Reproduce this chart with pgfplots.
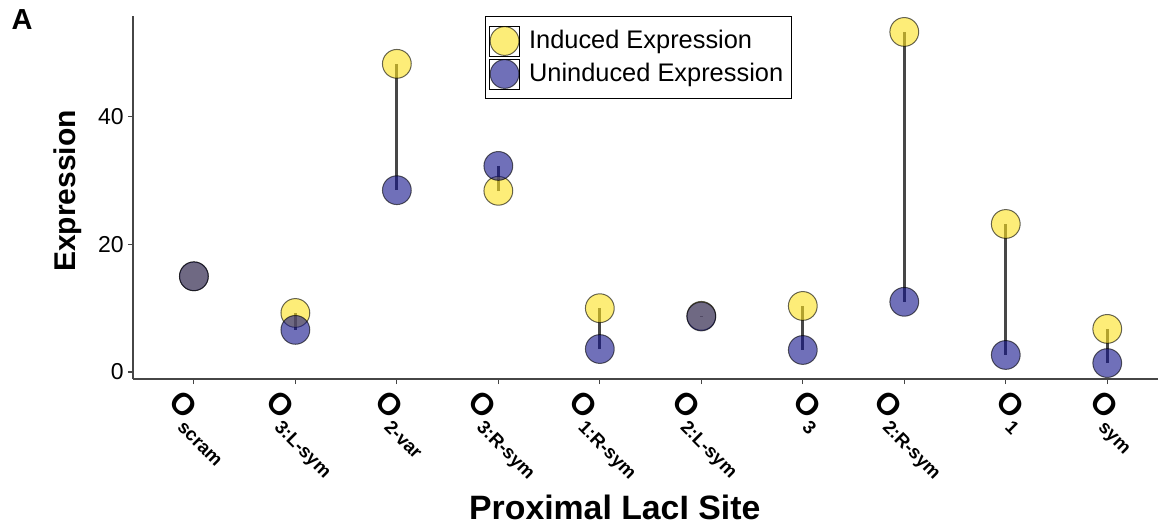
\documentclass[border=0pt]{standalone}
\usepackage{fontspec}
\setmainfont{Liberation Sans}
\usepackage{graphicx}
\usepackage{pgfplots}
\pgfplotsset{compat=1.18}
\definecolor{yel}{RGB}{251,225,30}
\definecolor{pur}{RGB}{17,17,138}
\definecolor{axgray}{RGB}{70,70,70}
\newcommand{\Os}[1]{\rotatebox{-45}{\fontsize{15.5}{15.5}\selectfont\bfseries O\raisebox{-5.4pt}{\fontsize{9.3}{9.3}\selectfont #1}}}
\begin{document}
\begin{tikzpicture}
\begin{axis}[
  name=ax, scale only axis, width=512.5pt, height=181.5pt,
  xmin=-0.6, xmax=9.5, ymin=-1.1, ymax=55.8,
  axis x line*=bottom, axis y line*=left,
  axis line style={draw=axgray, line width=0.6pt},
  tick style={draw=axgray, line width=0.6pt},
  tick align=outside, major tick length=2.5pt,
  xtick={0,1,2,3,4,5,6,7,8,9},
  xticklabels={\Os{scram},\Os{3:L-sym},\Os{2-var},\Os{3:R-sym},\Os{1:R-sym},\Os{2:L-sym},\Os{3},\Os{2:R-sym},\Os{1},\Os{sym}},
  ytick={0,20,40},
  /pgf/number format/assume math mode=true,
  yticklabel style={font=\fontsize{11.5}{12}\selectfont, inner xsep=2pt},
  xticklabel style={anchor=north, inner sep=0pt, xshift=2.5pt, yshift=-2pt},
  xlabel={Proximal LacI Site}, ylabel={Expression},
  xlabel style={font=\fontsize{16.9}{17}\selectfont\bfseries, at={(axis description cs:0.470,-0.355)}, anchor=center},
  ylabel style={font=\fontsize{15}{15}\selectfont\bfseries, at={(axis description cs:-0.0634,0.518)}, anchor=center},
  legend style={at={(0.343,1)}, anchor=north west, draw=black, line width=0.5pt,
    font=\fontsize{12.7}{13}\selectfont, row sep=1pt, column sep=2.5pt, inner xsep=2pt, inner ysep=4.5pt},
  legend cell align=left,
  legend image code/.code={\path (-7.5pt,-7.5pt) rectangle (7.5pt,7.5pt); \draw[#1] plot coordinates {(0pt,0pt)};},
  unbounded coords=jump,
  clip=false,
]
\addplot[only marks, mark=*, mark size=7.2pt, mark options={fill=yel, draw=black, line width=0.5pt, opacity=0.6}]
  coordinates {(0,15.0) (1,9.25) (2,48.3) (3,28.4) (4,10.0) (5,8.8) (6,10.35) (7,53.3) (8,23.2) (9,6.75)};
\addlegendentry{Induced Expression}
\addplot[only marks, mark=*, mark size=7.2pt, mark options={fill=pur, draw=black, line width=0.5pt, opacity=0.6}]
  coordinates {(0,15.0) (1,6.6) (2,28.5) (3,32.3) (4,3.6) (5,8.7) (6,3.45) (7,11.0) (8,2.67) (9,1.4)};
\addlegendentry{Uninduced Expression}
\addplot[forget plot, no markers, black, opacity=0.72, line width=1.5pt]
  coordinates {(0,15.0) (0,15.0) (0,nan)
  (1,6.6) (1,9.25) (1,nan)
  (2,28.5) (2,48.3) (2,nan)
  (3,32.3) (3,28.4) (3,nan)
  (4,3.6) (4,10.0) (4,nan)
  (5,8.7) (5,8.8) (5,nan)
  (6,3.45) (6,10.35) (6,nan)
  (7,11.0) (7,53.3) (7,nan)
  (8,2.67) (8,23.2) (8,nan)
  (9,1.4) (9,6.75)};
\end{axis}
\node[font=\fontsize{14.5}{14.5}\selectfont\bfseries] at ([xshift=-55.5pt,yshift=-2pt]ax.north west) {A};
\pgfresetboundingbox
\path[use as bounding box] ([xshift=-66.5pt,yshift=-74pt]ax.south west) rectangle ([xshift=1pt,yshift=8pt]ax.north east);
\end{tikzpicture}
\end{document}
